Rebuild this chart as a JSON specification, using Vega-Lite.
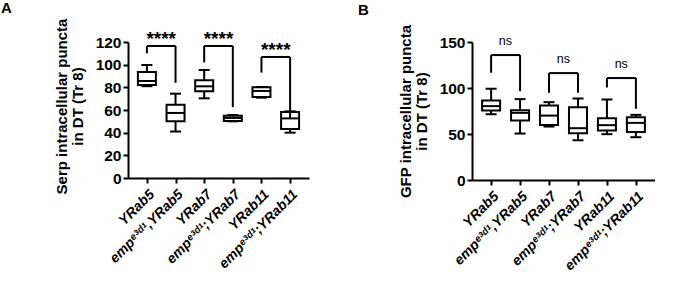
{
  "$schema": "https://vega.github.io/schema/vega-lite/v6.json",
  "background": "white",
  "padding": {"left": 1, "top": 1, "right": 0, "bottom": 0},
  "config": {
    "view": {"stroke": null},
    "font": "Liberation Sans",
    "axis": {
      "domainColor": "black", "domainWidth": 2, "tickColor": "black", "tickWidth": 2, "tickSize": 5,
      "labelColor": "black", "titleColor": "black", "labelFont": "Liberation Sans", "titleFont": "Liberation Sans",
      "labelFontWeight": "bold", "titleFontWeight": "bold", "titleFontSize": 15, "grid": false, "labelOverlap": false
    },
    "title": {"fontSize": 15, "fontWeight": "bold", "anchor": "start", "frame": "group", "color": "black", "font": "Liberation Sans"}
  },
  "datasets": {
    "boxesA": [
      {"group": "YRab5", "min": 81, "q1": 82, "median": 85.6, "q3": 93.5, "max": 99.7},
      {"group": "empᵉ³ᵈ¹,YRab5", "min": 41, "q1": 50, "median": 57.4, "q3": 64.7, "max": 74.4},
      {"group": "YRab7", "min": 70.3, "q1": 76.5, "median": 80.9, "q3": 86.2, "max": 95.3},
      {"group": "empᵉ³ᵈ¹;YRab7", "min": 50, "q1": 50.3, "median": 53, "q3": 55, "max": 55.6},
      {"group": "YRab11", "min": 70.9, "q1": 71.5, "median": 76.8, "q3": 80, "max": 80.3},
      {"group": "empᵉ³ᵈ¹;YRab11", "min": 40, "q1": 43.2, "median": 52.6, "q3": 58.2, "max": 58.8}
    ],
    "sigA": [
      {"g1": "YRab5", "g2": "empᵉ³ᵈ¹,YRab5", "top": 116.5, "l1": 110, "l2": 84, "label": "****"},
      {"g1": "YRab7", "g2": "empᵉ³ᵈ¹;YRab7", "top": 116.5, "l1": 102, "l2": 62.6, "label": "****"},
      {"g1": "YRab11", "g2": "empᵉ³ᵈ¹;YRab11", "top": 106.8, "l1": 93, "l2": 53, "label": "****"}
    ],
    "boxesB": [
      {"group": "YRab5", "min": 71.5, "q1": 75.5, "median": 80.3, "q3": 86.4, "max": 99.2},
      {"group": "empᵉ³ᵈ¹,YRab5", "min": 50.5, "q1": 64.6, "median": 73, "q3": 75.9, "max": 87.9},
      {"group": "YRab7", "min": 58.1, "q1": 59.9, "median": 70, "q3": 81, "max": 84.6},
      {"group": "empᵉ³ᵈ¹;YRab7", "min": 43.2, "q1": 50.8, "median": 56.3, "q3": 79.2, "max": 88.6},
      {"group": "YRab11", "min": 49.8, "q1": 53.8, "median": 59.6, "q3": 67.2, "max": 87.5},
      {"group": "empᵉ³ᵈ¹;YRab11", "min": 46.5, "q1": 52.3, "median": 62.1, "q3": 68.3, "max": 70.8}
    ],
    "sigB": [
      {"g1": "YRab5", "g2": "empᵉ³ᵈ¹,YRab5", "top": 135.8, "l1": 116.6, "l2": 96.6, "label": "ns"},
      {"g1": "YRab7", "g2": "empᵉ³ᵈ¹;YRab7", "top": 116.2, "l1": 94.8, "l2": 94.8, "label": "ns"},
      {"g1": "YRab11", "g2": "empᵉ³ᵈ¹;YRab11", "top": 110.8, "l1": 100.6, "l2": 77.4, "label": "ns"}
    ]
  },
  "spacing": 163,
  "bounds": "flush",
  "hconcat": [
    {
      "title": {"text": "A", "dx": -127, "dy": 2},
      "width": 181,
      "height": 136,
      "layer": [
        {
          "data": {"name": "boxesA"},
          "mark": {"type": "rule", "strokeWidth": 2, "color": "black"},
          "encoding": {
            "x": {"field": "group", "type": "nominal", "sort": null,
                  "scale": {"type": "point", "padding": 0.66, "domain": ["YRab5", "empᵉ³ᵈ¹,YRab5", "YRab7", "empᵉ³ᵈ¹;YRab7", "YRab11", "empᵉ³ᵈ¹;YRab11"]},
                  "axis": {"title": null, "labelAngle": -45, "labelFontSize": 14, "labelFontStyle": "italic", "labelPadding": 4}},
            "y": {"field": "min", "type": "quantitative",
                  "scale": {"domain": [0, 120], "nice": false},
                  "axis": {"title": ["Serp intracellular puncta", "in DT (Tr 8)"], "values": [0, 20, 40, 60, 80, 100, 120], "labelOverlap": false, "labelFontSize": 15.5, "titlePadding": 10, "titleLineHeight": 16, "titleY": 64}},
            "y2": {"field": "max"}
          }
        },
        {
          "data": {"name": "boxesA"},
          "mark": {"type": "bar", "fill": "white", "stroke": "black", "strokeWidth": 2, "size": 18},
          "encoding": {
            "x": {"field": "group", "type": "nominal", "axis": {"title": null, "labelAngle": -45, "labelFontSize": 14, "labelFontStyle": "italic", "labelPadding": 4}},
            "y": {"field": "q1", "type": "quantitative", "axis": {"title": ["Serp intracellular puncta", "in DT (Tr 8)"], "values": [0, 20, 40, 60, 80, 100, 120], "labelOverlap": false, "labelFontSize": 15.5, "titlePadding": 10, "titleLineHeight": 16, "titleY": 64}},
            "y2": {"field": "q3"}
          }
        },
        {
          "data": {"name": "boxesA"},
          "mark": {"type": "tick", "color": "black", "thickness": 2, "size": 18, "opacity": 1},
          "encoding": {
            "x": {"field": "group", "type": "nominal", "axis": {"title": null, "labelAngle": -45, "labelFontSize": 14, "labelFontStyle": "italic", "labelPadding": 4}},
            "y": {"field": "median", "type": "quantitative", "axis": {"title": ["Serp intracellular puncta", "in DT (Tr 8)"], "values": [0, 20, 40, 60, 80, 100, 120], "labelOverlap": false, "labelFontSize": 15.5, "titlePadding": 10, "titleLineHeight": 16, "titleY": 64}}
          }
        },
        {
          "data": {"name": "boxesA"},
          "mark": {"type": "tick", "color": "black", "thickness": 2, "size": 11, "opacity": 1},
          "encoding": {
            "x": {"field": "group", "type": "nominal", "axis": {"title": null, "labelAngle": -45, "labelFontSize": 14, "labelFontStyle": "italic", "labelPadding": 4}},
            "y": {"field": "min", "type": "quantitative", "axis": {"title": ["Serp intracellular puncta", "in DT (Tr 8)"], "values": [0, 20, 40, 60, 80, 100, 120], "labelOverlap": false, "labelFontSize": 15.5, "titlePadding": 10, "titleLineHeight": 16, "titleY": 64}}
          }
        },
        {
          "data": {"name": "boxesA"},
          "mark": {"type": "tick", "color": "black", "thickness": 2, "size": 11, "opacity": 1},
          "encoding": {
            "x": {"field": "group", "type": "nominal", "axis": {"title": null, "labelAngle": -45, "labelFontSize": 14, "labelFontStyle": "italic", "labelPadding": 4}},
            "y": {"field": "max", "type": "quantitative", "axis": {"title": ["Serp intracellular puncta", "in DT (Tr 8)"], "values": [0, 20, 40, 60, 80, 100, 120], "labelOverlap": false, "labelFontSize": 15.5, "titlePadding": 10, "titleLineHeight": 16, "titleY": 64}}
          }
        },
        {
          "data": {"name": "sigA"},
          "mark": {"type": "rule", "strokeWidth": 2, "color": "black"},
          "encoding": {
            "x": {"field": "g1", "type": "nominal", "axis": {"title": null, "labelAngle": -45, "labelFontSize": 14, "labelFontStyle": "italic", "labelPadding": 4}},
            "x2": {"field": "g2"},
            "y": {"field": "top", "type": "quantitative", "axis": {"title": ["Serp intracellular puncta", "in DT (Tr 8)"], "values": [0, 20, 40, 60, 80, 100, 120], "labelOverlap": false, "labelFontSize": 15.5, "titlePadding": 10, "titleLineHeight": 16, "titleY": 64}}
          }
        },
        {
          "data": {"name": "sigA"},
          "mark": {"type": "rule", "strokeWidth": 2, "color": "black"},
          "encoding": {
            "x": {"field": "g1", "type": "nominal", "axis": {"title": null, "labelAngle": -45, "labelFontSize": 14, "labelFontStyle": "italic", "labelPadding": 4}},
            "y": {"field": "l1", "type": "quantitative", "axis": {"title": ["Serp intracellular puncta", "in DT (Tr 8)"], "values": [0, 20, 40, 60, 80, 100, 120], "labelOverlap": false, "labelFontSize": 15.5, "titlePadding": 10, "titleLineHeight": 16, "titleY": 64}},
            "y2": {"field": "top"}
          }
        },
        {
          "data": {"name": "sigA"},
          "mark": {"type": "rule", "strokeWidth": 2, "color": "black"},
          "encoding": {
            "x": {"field": "g2", "type": "nominal", "axis": {"title": null, "labelAngle": -45, "labelFontSize": 14, "labelFontStyle": "italic", "labelPadding": 4}},
            "y": {"field": "l2", "type": "quantitative", "axis": {"title": ["Serp intracellular puncta", "in DT (Tr 8)"], "values": [0, 20, 40, 60, 80, 100, 120], "labelOverlap": false, "labelFontSize": 15.5, "titlePadding": 10, "titleLineHeight": 16, "titleY": 64}},
            "y2": {"field": "top"}
          }
        },
        {
          "data": {"name": "sigA"},
          "mark": {"type": "text", "dx": 14.3, "dy": -1, "fontSize": 19, "fontWeight": "bold", "baseline": "alphabetic", "color": "black", "font": "Liberation Sans"},
          "encoding": {
            "x": {"field": "g1", "type": "nominal", "axis": {"title": null, "labelAngle": -45, "labelFontSize": 14, "labelFontStyle": "italic", "labelPadding": 4}},
            "y": {"field": "top", "type": "quantitative", "axis": {"title": ["Serp intracellular puncta", "in DT (Tr 8)"], "values": [0, 20, 40, 60, 80, 100, 120], "labelOverlap": false, "labelFontSize": 15.5, "titlePadding": 10, "titleLineHeight": 16, "titleY": 64}},
            "text": {"field": "label"}
          }
        }
      ]
    },
    {
      "title": {"text": "B", "dx": -114, "dy": -2},
      "width": 183,
      "height": 138,
      "layer": [
        {
          "data": {"name": "boxesB"},
          "mark": {"type": "rule", "strokeWidth": 2, "color": "black"},
          "encoding": {
            "x": {"field": "group", "type": "nominal", "sort": null,
                  "scale": {"type": "point", "padding": 0.66, "domain": ["YRab5", "empᵉ³ᵈ¹,YRab5", "YRab7", "empᵉ³ᵈ¹;YRab7", "YRab11", "empᵉ³ᵈ¹;YRab11"]},
                  "axis": {"title": null, "labelAngle": -45, "labelFontSize": 14, "labelFontStyle": "italic", "labelPadding": 4}},
            "y": {"field": "min", "type": "quantitative",
                  "scale": {"domain": [0, 150], "nice": false},
                  "axis": {"title": ["GFP intracellular puncta", "in DT (Tr 8)"], "values": [0, 50, 100, 150], "labelOverlap": false, "labelFontSize": 15.5, "titlePadding": 10, "titleLineHeight": 16}},
            "y2": {"field": "max"}
          }
        },
        {
          "data": {"name": "boxesB"},
          "mark": {"type": "bar", "fill": "white", "stroke": "black", "strokeWidth": 2, "size": 18},
          "encoding": {
            "x": {"field": "group", "type": "nominal", "axis": {"title": null, "labelAngle": -45, "labelFontSize": 14, "labelFontStyle": "italic", "labelPadding": 4}},
            "y": {"field": "q1", "type": "quantitative", "axis": {"title": ["GFP intracellular puncta", "in DT (Tr 8)"], "values": [0, 50, 100, 150], "labelOverlap": false, "labelFontSize": 15.5, "titlePadding": 10, "titleLineHeight": 16}},
            "y2": {"field": "q3"}
          }
        },
        {
          "data": {"name": "boxesB"},
          "mark": {"type": "tick", "color": "black", "thickness": 2, "size": 18, "opacity": 1},
          "encoding": {
            "x": {"field": "group", "type": "nominal", "axis": {"title": null, "labelAngle": -45, "labelFontSize": 14, "labelFontStyle": "italic", "labelPadding": 4}},
            "y": {"field": "median", "type": "quantitative", "axis": {"title": ["GFP intracellular puncta", "in DT (Tr 8)"], "values": [0, 50, 100, 150], "labelOverlap": false, "labelFontSize": 15.5, "titlePadding": 10, "titleLineHeight": 16}}
          }
        },
        {
          "data": {"name": "boxesB"},
          "mark": {"type": "tick", "color": "black", "thickness": 2, "size": 11, "opacity": 1},
          "encoding": {
            "x": {"field": "group", "type": "nominal", "axis": {"title": null, "labelAngle": -45, "labelFontSize": 14, "labelFontStyle": "italic", "labelPadding": 4}},
            "y": {"field": "min", "type": "quantitative", "axis": {"title": ["GFP intracellular puncta", "in DT (Tr 8)"], "values": [0, 50, 100, 150], "labelOverlap": false, "labelFontSize": 15.5, "titlePadding": 10, "titleLineHeight": 16}}
          }
        },
        {
          "data": {"name": "boxesB"},
          "mark": {"type": "tick", "color": "black", "thickness": 2, "size": 11, "opacity": 1},
          "encoding": {
            "x": {"field": "group", "type": "nominal", "axis": {"title": null, "labelAngle": -45, "labelFontSize": 14, "labelFontStyle": "italic", "labelPadding": 4}},
            "y": {"field": "max", "type": "quantitative", "axis": {"title": ["GFP intracellular puncta", "in DT (Tr 8)"], "values": [0, 50, 100, 150], "labelOverlap": false, "labelFontSize": 15.5, "titlePadding": 10, "titleLineHeight": 16}}
          }
        },
        {
          "data": {"name": "sigB"},
          "mark": {"type": "rule", "strokeWidth": 2, "color": "black"},
          "encoding": {
            "x": {"field": "g1", "type": "nominal", "axis": {"title": null, "labelAngle": -45, "labelFontSize": 14, "labelFontStyle": "italic", "labelPadding": 4}},
            "x2": {"field": "g2"},
            "y": {"field": "top", "type": "quantitative", "axis": {"title": ["GFP intracellular puncta", "in DT (Tr 8)"], "values": [0, 50, 100, 150], "labelOverlap": false, "labelFontSize": 15.5, "titlePadding": 10, "titleLineHeight": 16}}
          }
        },
        {
          "data": {"name": "sigB"},
          "mark": {"type": "rule", "strokeWidth": 2, "color": "black"},
          "encoding": {
            "x": {"field": "g1", "type": "nominal", "axis": {"title": null, "labelAngle": -45, "labelFontSize": 14, "labelFontStyle": "italic", "labelPadding": 4}},
            "y": {"field": "l1", "type": "quantitative", "axis": {"title": ["GFP intracellular puncta", "in DT (Tr 8)"], "values": [0, 50, 100, 150], "labelOverlap": false, "labelFontSize": 15.5, "titlePadding": 10, "titleLineHeight": 16}},
            "y2": {"field": "top"}
          }
        },
        {
          "data": {"name": "sigB"},
          "mark": {"type": "rule", "strokeWidth": 2, "color": "black"},
          "encoding": {
            "x": {"field": "g2", "type": "nominal", "axis": {"title": null, "labelAngle": -45, "labelFontSize": 14, "labelFontStyle": "italic", "labelPadding": 4}},
            "y": {"field": "l2", "type": "quantitative", "axis": {"title": ["GFP intracellular puncta", "in DT (Tr 8)"], "values": [0, 50, 100, 150], "labelOverlap": false, "labelFontSize": 15.5, "titlePadding": 10, "titleLineHeight": 16}},
            "y2": {"field": "top"}
          }
        },
        {
          "data": {"name": "sigB"},
          "mark": {"type": "text", "dx": 14.3, "dy": -7, "fontSize": 12.5, "baseline": "bottom", "color": "black", "font": "Liberation Sans"},
          "encoding": {
            "x": {"field": "g1", "type": "nominal", "axis": {"title": null, "labelAngle": -45, "labelFontSize": 14, "labelFontStyle": "italic", "labelPadding": 4}},
            "y": {"field": "top", "type": "quantitative", "axis": {"title": ["GFP intracellular puncta", "in DT (Tr 8)"], "values": [0, 50, 100, 150], "labelOverlap": false, "labelFontSize": 15.5, "titlePadding": 10, "titleLineHeight": 16}},
            "text": {"field": "label"}
          }
        }
      ]
    }
  ]
}
